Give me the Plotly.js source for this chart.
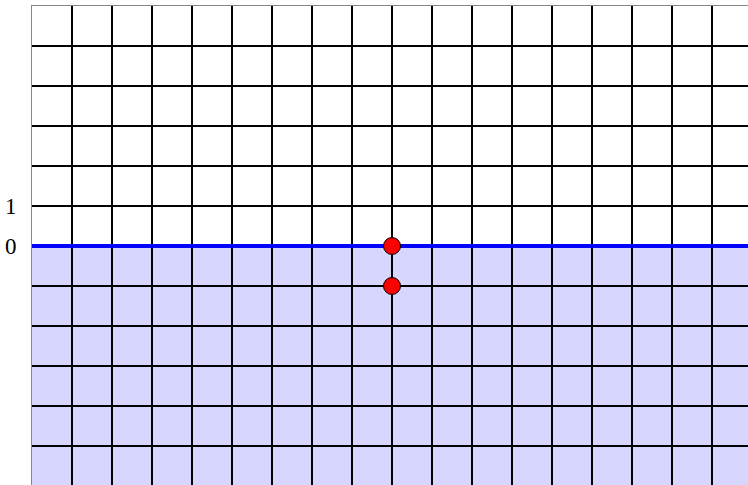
<!DOCTYPE html>
<html>
<head>
<meta charset="utf-8">
<script src="https://cdn.plot.ly/plotly-3.0.1.min.js"></script>
<style>html,body{margin:0;padding:0;background:#fff;}#chart{width:748px;height:485px;}</style>
</head>
<body>
<div id="chart"></div>
<script>
// Data
const xGrid = [0,1,2,3,4,5,6,7,8,9,10,11,12,13,14,15,16,17];
const yGrid = [-5,-4,-3,-2,-1,0,1,2,3,4,5,6];
const yTickText = ["","","","","","0","1","","","","",""];
const lineX = [0, 17.9];
const lineY = [0, 0];
const shadeBottom = -6;
const shadeTop = 0;
const pointX = [9, 9];
const pointY = [0, -1];

const traces = [
  {x: lineX, y: lineY, mode: 'lines', line: {color: '#0000ff', width: 4}, hoverinfo: 'skip', showlegend: false},
  {x: pointX, y: pointY, mode: 'markers', marker: {color: '#ff0000', size: 17, line: {color: '#000', width: 1}}, showlegend: false}
];

const layout = {
  width: 748, height: 485,
  margin: {l: 32, r: 0, t: 6, b: 0, pad: 0},
  paper_bgcolor: '#fff', plot_bgcolor: '#fff',
  showlegend: false,
  xaxis: {
    range: [0, 17.9], tickmode: 'array', tickvals: xGrid, showticklabels: false,
    showgrid: true, gridcolor: '#000', gridwidth: 2, zeroline: false,
    showline: true, side: 'top', linecolor: '#888', linewidth: 1, ticks: '', fixedrange: true
  },
  yaxis: {
    range: [-5.975, 6], tickmode: 'array', tickvals: yGrid, ticktext: yTickText,
    showgrid: true, gridcolor: '#000', gridwidth: 2, zeroline: false,
    showline: true, linecolor: '#888', linewidth: 1,
    ticks: 'outside', ticklen: 10, tickcolor: 'rgba(0,0,0,0)',
    tickfont: {family: 'Liberation Serif, Times New Roman, serif', size: 23, color: '#000'},
    fixedrange: true
  },
  shapes: [
    {type: 'rect', xref: 'x', yref: 'y', x0: lineX[0], x1: lineX[1], y0: shadeBottom, y1: shadeTop,
     fillcolor: '#d6d6ff', line: {width: 0}, layer: 'below'}
  ]
};

Plotly.newPlot('chart', traces, layout, {displayModeBar: false, staticPlot: true});
</script>
</body>
</html>
